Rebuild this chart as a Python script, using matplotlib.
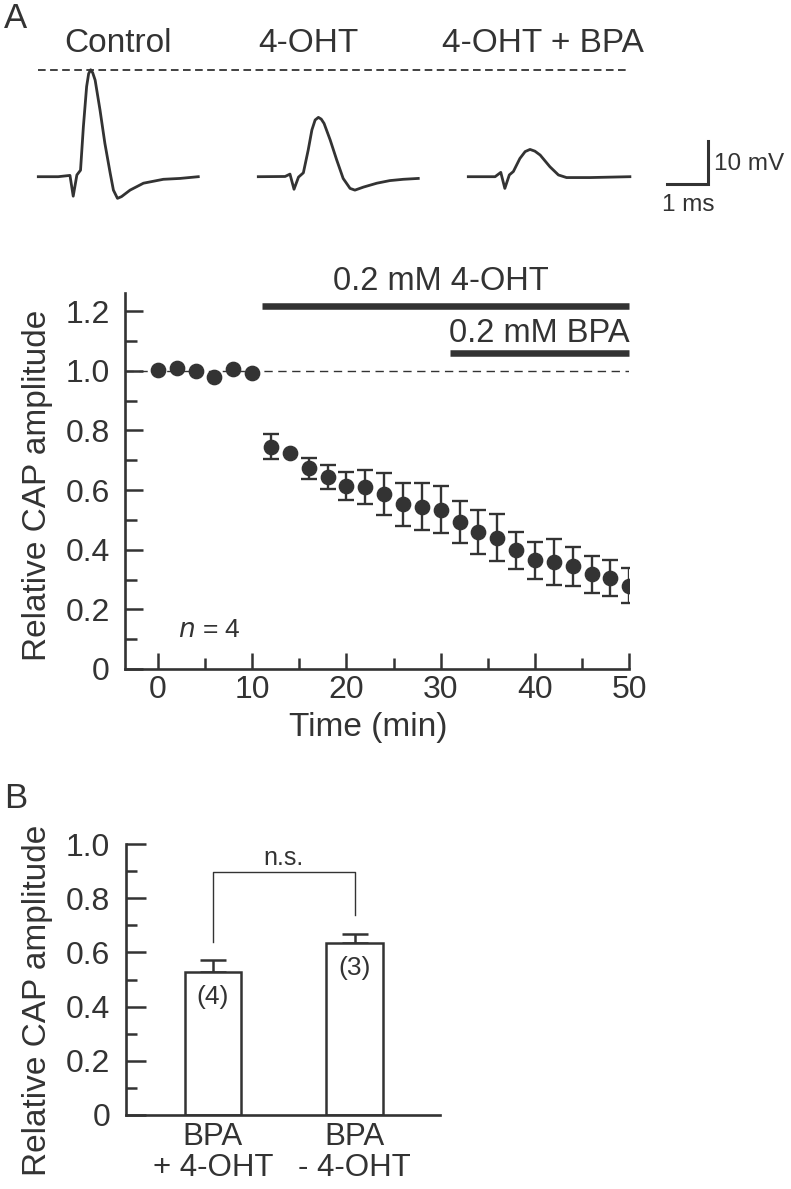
import matplotlib
matplotlib.use("Agg")
import matplotlib.pyplot as plt
import numpy as np

INK = "#333333"
plt.rcParams.update({"font.family": ["Liberation Sans", "DejaVu Sans"],
                     "text.color": INK, "axes.edgecolor": INK, "axes.labelcolor": INK,
                     "xtick.color": INK, "ytick.color": INK, "lines.scale_dashes": False})

# ---- example CAP traces: time (ms from trace start), voltage (mV from baseline) ----
TRACE_NAMES = ["Control", "4-OHT", "4-OHT + BPA"]
CTRL_T = [0, 0.49, 0.78, 0.86, 0.95, 1.04, 1.11, 1.19, 1.24, 1.29, 1.34, 1.40, 1.52, 1.64,
          1.77, 1.85, 1.95, 2.05, 2.26, 2.59, 3.08, 3.49, 3.94]
CTRL_V = [0, 0, 0.3, -4.5, 0.4, 1.5, 11.5, 20.8, 23.8, 24.7, 24.0, 22.3, 15.4, 7.7,
          0.85, -3.1, -5.0, -4.6, -3.1, -1.5, -0.6, -0.4, 0]
OHT_T = [0, 0.66, 0.78, 0.88, 0.99, 1.11, 1.23, 1.32, 1.40, 1.48, 1.55, 1.62, 1.77, 1.93,
         2.09, 2.26, 2.38, 2.59, 2.92, 3.24, 3.57, 3.94]
OHT_V = [0, 0.05, 0.6, -2.9, -0.1, 0.9, 6.2, 10.8, 13.1, 13.7, 13.3, 12.3, 8.5, 3.9,
         -0.4, -2.7, -3.1, -2.4, -1.5, -0.9, -0.6, -0.4]
BPA_T = [0, 0.66, 0.80, 0.90, 1.01, 1.11, 1.27, 1.40, 1.52, 1.64, 1.77, 2.01, 2.22, 2.42,
         3.0, 3.98]
BPA_V = [0, 0, 1.0, -2.7, 0.4, 1.2, 4.2, 5.8, 6.3, 5.9, 5.0, 2.3, 0.4, -0.2, -0.2, 0]

# ---- time course ----
TIME = [0, 2, 4, 6, 8, 10, 12, 14, 16, 18, 20, 22, 24, 26, 28, 30, 32, 34, 36, 38, 40,
        42, 44, 46, 48, 50]
CAP_MEAN = [1.003, 1.009, 0.998, 0.980, 1.006, 0.992, 0.745, 0.724, 0.673, 0.644, 0.615,
            0.609, 0.587, 0.552, 0.544, 0.534, 0.492, 0.460, 0.441, 0.398, 0.364, 0.360,
            0.344, 0.318, 0.305, 0.280]
CAP_SEM = [0, 0, 0, 0, 0, 0, 0.042, 0, 0.036, 0.039, 0.047, 0.057, 0.069, 0.071, 0.079,
           0.079, 0.070, 0.073, 0.078, 0.062, 0.062, 0.077, 0.066, 0.062, 0.059, 0.058]
DRUG_LABELS = ["0.2 mM 4-OHT", "0.2 mM BPA"]
DRUG_START = [11.1, 31.0]
DRUG_END = [50, 50]

# ---- panel B ----
GROUPS = ["BPA\n+ 4-OHT", "BPA\n- 4-OHT"]
BAR_MEAN = [0.527, 0.635]
BAR_SEM = [0.044, 0.034]
BAR_N = [4, 3]

W, H = 791, 1189
fig = plt.figure(figsize=(W / 100, H / 100), dpi=100)


def fx(px):
    return px / W


def fy(py):
    return 1 - py / H


# ---------------- traces ----------------
PX_MS, PX_MV, BASE = 40.6, 4.33, 176.7
at = fig.add_axes([0, fy(240), 1, 240 / H])
at.set_xlim(0, W / PX_MS)
at.set_ylim((BASE - 240) / PX_MV, BASE / PX_MV)
at.axis("off")
starts = [38.3 / PX_MS, 258.3 / PX_MS, 468.3 / PX_MS]
for t, v, t0 in zip([CTRL_T, OHT_T, BPA_T], [CTRL_V, OHT_V, BPA_V], starts):
    at.plot(np.array(t) + t0, v, color=INK, lw=2.0, solid_joinstyle="round")
at.plot([starts[0], 630 / PX_MS], [max(CTRL_V)] * 2, color=INK, lw=1.3, ls=(0, (5.5, 3.2)))
# scale bar: 1 ms, 10 mV
sx, sy = 707.5 / PX_MS, -1.75
at.plot([sx - 1, sx, sx], [sy, sy, sy + 10], color=INK, lw=2.2, solid_joinstyle="miter")
fig.text(fx(714), fy(164), "10 mV", fontsize=17.5, va="center", ha="left")
fig.text(fx(688), fy(205), "1 ms", fontsize=17.5, va="center", ha="center")
for name, cx in zip(TRACE_NAMES, [118, 308, 543]):
    fig.text(fx(cx), fy(43), name, fontsize=24, ha="center", va="center")
fig.text(fx(16), fy(18), "A", fontsize=25, ha="center", va="center")
fig.text(fx(16), fy(799), "B", fontsize=25, ha="center", va="center")


def style(ax):
    for s in ["top", "right"]:
        ax.spines[s].set_visible(False)
    for s in ["left", "bottom"]:
        ax.spines[s].set_linewidth(1.9)
        ax.spines[s].set_capstyle("projecting")


# ---------------- panel A time course ----------------
ax = fig.add_axes([fx(125), fy(669), (629.3 - 125) / W, (669 - 293.3) / H])
style(ax)
ax.set_xlim(-3.48, 50)
ax.set_ylim(0, 1.26)
ax.plot([-3.48, 50], [1, 1], color=INK, lw=1.0, ls=(0, (6.0, 4.0)), zorder=1)
tm, mn, se = np.array(TIME), np.array(CAP_MEAN), np.array(CAP_SEM)
m = se > 0
ax.errorbar(tm[m], mn[m], yerr=se[m], fmt="none", ecolor=INK, elinewidth=1.7,
            capsize=6, capthick=1.7, zorder=2)
ax.plot(tm, mn, "o", color=INK, ms=10.3, zorder=3)
for lab, x0, x1, yb, yt, al, xt in zip(DRUG_LABELS, DRUG_START, DRUG_END, [1.218, 1.061],
                                       [1.298, 1.126], ["center", "right"], [30, 50]):
    ax.plot([x0, x1], [yb, yb], color=INK, lw=4.7, solid_capstyle="butt", clip_on=False)
    ax.text(xt, yt, lab, fontsize=23.5, ha=al, va="center", clip_on=False)
ax.text(2.1, 0.131, r"$n$ = 4", fontsize=19, ha="left", va="center")
ax.set_xticks([0, 10, 20, 30, 40, 50])
ax.set_xticks([5, 15, 25, 35, 45], minor=True)
ax.set_yticks(np.arange(0, 1.21, 0.2), ["0", "0.2", "0.4", "0.6", "0.8", "1.0", "1.2"])
ax.set_yticks(np.arange(0.1, 1.2, 0.2), minor=True)
ax.tick_params(axis="both", which="both", direction="in", width=1.8, labelsize=23)
ax.tick_params(axis="y", which="major", length=13, pad=11)
ax.tick_params(axis="y", which="minor", length=8.6)
ax.tick_params(axis="x", which="major", length=11.3, pad=4)
ax.tick_params(axis="x", which="minor", length=7.7)
ax.set_xlabel("Time (min)", fontsize=24, va="center")
ax.xaxis.set_label_coords(0.482, -0.157)
ax.set_ylabel("Relative CAP amplitude", fontsize=24, va="center", ha="center")
ax.yaxis.set_label_coords(-0.1735, 0.49)

# ---------------- panel B ----------------
bx = fig.add_axes([fx(126), fy(1115), 314 / W, 271 / H])
style(bx)
bx.set_xlim(-0.613, 1.6)
bx.set_ylim(0, 1.0)
xs = np.arange(len(GROUPS))
bx.bar(xs, BAR_MEAN, width=0.40, color="white", edgecolor=INK, lw=1.8, zorder=2)
bx.errorbar(xs, BAR_MEAN, yerr=[[0] * len(xs), BAR_SEM], fmt="none", ecolor=INK,
            elinewidth=1.8, capsize=9.6, capthick=1.8, zorder=1)
tops = np.array(BAR_MEAN) + np.array(BAR_SEM) + 0.068
bx.plot([xs[0], xs[0], xs[1], xs[1]], [tops[0], 0.895, 0.895, tops[1]], color=INK, lw=1.0)
bx.text(xs.mean(), 0.947, "n.s.", fontsize=18, ha="center", va="center")
for x, mv, n in zip(xs, BAR_MEAN, BAR_N):
    bx.text(x, mv - 0.092, f"({n})", fontsize=19, ha="center", va="center", zorder=3)
bx.set_xticks(xs, GROUPS, fontsize=22.5, linespacing=1.05)
bx.set_yticks(np.arange(0, 1.01, 0.2), ["0", "0.2", "0.4", "0.6", "0.8", "1.0"])
bx.set_yticks(np.arange(0.1, 1.0, 0.2), minor=True)
bx.tick_params(axis="x", length=0, pad=5)
bx.tick_params(axis="y", which="both", direction="in", width=1.8, labelsize=23)
bx.tick_params(axis="y", which="major", length=14.5, pad=11.5)
bx.tick_params(axis="y", which="minor", length=8)
bx.set_ylabel("Relative CAP amplitude", fontsize=24, va="center", ha="center")
bx.yaxis.set_label_coords(-0.282, 0.424)

fig.savefig("out.png", dpi=100)
